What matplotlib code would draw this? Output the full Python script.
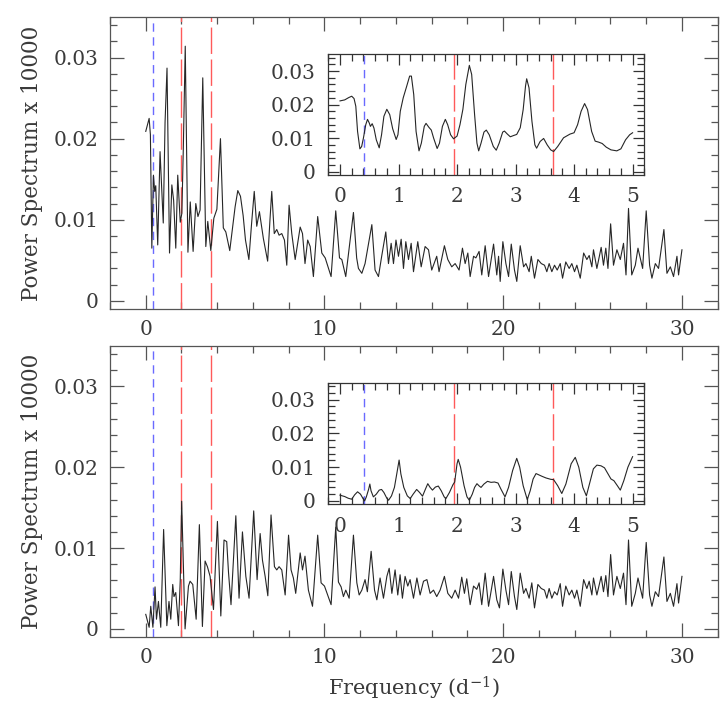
import matplotlib
matplotlib.use("Agg")
import matplotlib.pyplot as plt
from matplotlib.ticker import MultipleLocator, FixedLocator

plt.rcParams['font.family'] = ['DejaVu Serif']
plt.rcParams['mathtext.fontset'] = 'dejavuserif'

# ---------------- data ----------------
top_main_f = [0.00, 0.19, 0.26, 0.34, 0.43, 0.50, 0.56, 0.67, 0.80, 0.98, 1.08, 1.19, 1.33, 1.46, 1.56,
              1.68, 1.79, 1.93, 2.02, 2.10, 2.21, 2.36, 2.49, 2.65, 2.80, 2.92, 3.04, 3.19, 3.36, 3.47,
              3.64, 3.81, 3.98, 4.18, 4.34, 4.48, 4.70, 5.00, 5.15, 5.30, 5.45, 5.58, 5.77, 5.92, 6.07,
              6.21, 6.36, 6.58, 6.82, 6.95, 7.05, 7.19, 7.33, 7.46, 7.61, 7.76, 7.89, 8.02, 8.17, 8.36,
              8.64, 8.77, 8.91, 9.06, 9.20, 9.38, 9.62, 9.85, 10.04, 10.37, 10.63, 10.84, 10.97, 11.19,
              11.62, 11.80, 11.90, 12.09, 12.27, 12.65, 12.83, 13.02, 13.20, 13.43, 13.58, 13.73, 13.86,
              14.00, 14.14, 14.29, 14.42, 14.55, 14.70, 14.85, 14.98, 15.22, 15.41, 15.63, 15.82, 16.00,
              16.28, 16.41, 16.71, 16.90, 17.12, 17.31, 17.53, 17.72, 17.87, 18.02, 18.15, 18.34, 18.47,
              18.65, 18.80, 18.99, 19.18, 19.46, 19.64, 19.74, 19.83, 19.98, 20.15, 20.30, 20.45, 20.63,
              20.76, 20.95, 21.14, 21.27, 21.45, 21.57, 21.75, 21.94, 22.13, 22.31, 22.44, 22.57, 22.72,
              22.87, 23.02, 23.19, 23.32, 23.50, 23.69, 23.84, 23.99, 24.12, 24.31, 24.50, 24.68, 24.81,
              24.96, 25.05, 25.24, 25.48, 25.61, 25.74, 25.86, 26.01, 26.17, 26.36, 26.55, 26.73, 26.87,
              27.01, 27.19, 27.39, 27.54, 27.80, 28.00, 28.19, 28.32, 28.51, 28.69, 28.99, 29.16, 29.35,
              29.53, 29.72, 29.81, 30.00]
top_main_p = [0.0209, 0.0225, 0.0205, 0.0065, 0.0155, 0.0135, 0.0142, 0.0069, 0.0184, 0.0096, 0.0220, 0.0287, 0.0059, 0.0143, 0.0124,
              0.0065, 0.0155, 0.0097, 0.0108, 0.0186, 0.0314, 0.0060, 0.0122, 0.0061, 0.0120, 0.0104, 0.0112, 0.0275, 0.0067, 0.0098,
              0.0062, 0.0102, 0.0113, 0.0200, 0.0090, 0.0085, 0.0062, 0.0116, 0.0136, 0.0129, 0.0105, 0.0075, 0.0051, 0.0095, 0.0135,
              0.0092, 0.0110, 0.0077, 0.0049, 0.0100, 0.0135, 0.0083, 0.0088, 0.0081, 0.0083, 0.0075, 0.0044, 0.0118, 0.0083, 0.0051,
              0.0091, 0.0083, 0.0046, 0.0075, 0.0067, 0.0030, 0.0104, 0.0059, 0.0053, 0.0030, 0.0111, 0.0053, 0.0051, 0.0030,
              0.0109, 0.0053, 0.0040, 0.0034, 0.0046, 0.0094, 0.0038, 0.0030, 0.0055, 0.0085, 0.0046, 0.0071, 0.0046,
              0.0075, 0.0055, 0.0076, 0.0040, 0.0073, 0.0051, 0.0071, 0.0036, 0.0073, 0.0042, 0.0067, 0.0063, 0.0038,
              0.0055, 0.0036, 0.0068, 0.0051, 0.0042, 0.0046, 0.0038, 0.0065, 0.0046, 0.0059, 0.0030, 0.0055, 0.0053,
              0.0061, 0.0032, 0.0068, 0.0030, 0.0070, 0.0032, 0.0055, 0.0024, 0.0073, 0.0046, 0.0030, 0.0070, 0.0038,
              0.0024, 0.0068, 0.0042, 0.0046, 0.0036, 0.0055, 0.0028, 0.0051, 0.0046, 0.0044, 0.0036, 0.0046, 0.0036,
              0.0044, 0.0038, 0.0046, 0.0028, 0.0048, 0.0040, 0.0046, 0.0036, 0.0044, 0.0028, 0.0059, 0.0051, 0.0056,
              0.0042, 0.0063, 0.0040, 0.0066, 0.0044, 0.0065, 0.0040, 0.0095, 0.0044, 0.0063, 0.0051, 0.0071, 0.0032,
              0.0114, 0.0032, 0.0044, 0.0065, 0.0040, 0.0111, 0.0044, 0.0028, 0.0046, 0.0040, 0.0088, 0.0034, 0.0042,
              0.0030, 0.0055, 0.0032, 0.0063]

bot_main_f = [0.00, 0.19, 0.28, 0.40, 0.52, 0.60, 0.71, 0.84, 1.00, 1.18, 1.30, 1.40, 1.51, 1.58, 1.68,
              1.83, 1.93, 2.01, 2.20, 2.39, 2.48, 2.63, 2.82, 3.00, 3.17, 3.32, 3.45, 3.60, 3.79, 4.01,
              4.20, 4.38, 4.53, 4.63, 4.77, 5.04, 5.22, 5.41, 5.60, 5.78, 6.04, 6.23, 6.40, 6.53, 6.68,
              6.83, 7.01, 7.20, 7.33, 7.46, 7.61, 7.80, 7.99, 8.13, 8.26, 8.39, 8.64, 8.77, 8.91, 9.10,
              9.33, 9.62, 9.81, 10.00, 10.37, 10.63, 10.78, 10.93, 11.06, 11.19, 11.38, 11.62, 11.81,
              11.94, 12.09, 12.27, 12.40, 12.61, 12.80, 12.93, 13.11, 13.30, 13.49, 13.62, 13.77, 13.95,
              14.10, 14.23, 14.36, 14.51, 14.66, 14.79, 14.98, 15.17, 15.35, 15.54, 15.73, 15.91, 16.10,
              16.28, 16.47, 16.71, 16.90, 17.12, 17.31, 17.50, 17.68, 17.83, 17.96, 18.15, 18.34, 18.52,
              18.65, 18.80, 18.99, 19.18, 19.46, 19.64, 19.79, 19.98, 20.15, 20.30, 20.45, 20.63, 20.76,
              20.95, 21.14, 21.27, 21.45, 21.60, 21.75, 21.94, 22.13, 22.31, 22.44, 22.57, 22.72, 22.87,
              23.02, 23.19, 23.32, 23.50, 23.69, 23.84, 23.99, 24.12, 24.31, 24.50, 24.68, 24.81, 24.96,
              25.05, 25.24, 25.48, 25.61, 25.74, 25.86, 26.01, 26.17, 26.36, 26.55, 26.73, 26.87, 27.01,
              27.19, 27.39, 27.54, 27.80, 28.00, 28.19, 28.32, 28.51, 28.69, 28.99, 29.16, 29.35, 29.53,
              29.72, 29.81, 30.00]
bot_main_p = [0.0018, 0.0002, 0.0028, 0.0002, 0.0052, 0.0012, 0.0034, 0.0002, 0.0123, 0.0004, 0.0034, 0.0012, 0.0055, 0.0040, 0.0045,
              0.0004, 0.0060, 0.0158, 0.0000, 0.0053, 0.0059, 0.0055, 0.0012, 0.0129, 0.0003, 0.0084, 0.0077, 0.0065, 0.0024, 0.0133,
              0.0016, 0.0110, 0.0108, 0.0070, 0.0030, 0.0140, 0.0038, 0.0120, 0.0065, 0.0038, 0.0146, 0.0061, 0.0118, 0.0085, 0.0065,
              0.0041, 0.0141, 0.0077, 0.0073, 0.0077, 0.0073, 0.0042, 0.0116, 0.0073, 0.0063, 0.0044, 0.0094, 0.0073, 0.0090, 0.0048,
              0.0028, 0.0116, 0.0057, 0.0053, 0.0030, 0.0126, 0.0058, 0.0052, 0.0040, 0.0048, 0.0038, 0.0116, 0.0057,
              0.0042, 0.0048, 0.0061, 0.0046, 0.0096, 0.0048, 0.0036, 0.0063, 0.0038, 0.0065, 0.0075, 0.0044, 0.0073,
              0.0042, 0.0067, 0.0038, 0.0065, 0.0053, 0.0061, 0.0038, 0.0063, 0.0042, 0.0059, 0.0061, 0.0044, 0.0048,
              0.0040, 0.0048, 0.0065, 0.0044, 0.0038, 0.0048, 0.0038, 0.0064, 0.0044, 0.0062, 0.0030, 0.0053, 0.0049,
              0.0057, 0.0030, 0.0069, 0.0028, 0.0065, 0.0036, 0.0026, 0.0074, 0.0048, 0.0030, 0.0071, 0.0040, 0.0024,
              0.0069, 0.0044, 0.0050, 0.0038, 0.0057, 0.0026, 0.0055, 0.0050, 0.0048, 0.0038, 0.0050, 0.0038, 0.0046,
              0.0042, 0.0056, 0.0028, 0.0053, 0.0042, 0.0048, 0.0038, 0.0048, 0.0028, 0.0061, 0.0050, 0.0059, 0.0042,
              0.0063, 0.0042, 0.0065, 0.0046, 0.0066, 0.0040, 0.0092, 0.0042, 0.0065, 0.0050, 0.0069, 0.0030, 0.0110,
              0.0028, 0.0044, 0.0063, 0.0038, 0.0107, 0.0042, 0.0028, 0.0046, 0.0040, 0.0089, 0.0034, 0.0044, 0.0028,
              0.0056, 0.0032, 0.0065]

top_inset_f = [0.00, 0.08, 0.15, 0.20, 0.24, 0.27, 0.30, 0.34, 0.37, 0.40, 0.44, 0.47, 0.50, 0.52, 0.55,
               0.58, 0.62, 0.67, 0.71, 0.75, 0.80, 0.85, 0.90, 0.96, 0.99, 1.03, 1.08, 1.14, 1.19, 1.22,
               1.26, 1.30, 1.35, 1.39, 1.44, 1.47, 1.52, 1.56, 1.60, 1.66, 1.70, 1.75, 1.80, 1.84, 1.89,
               1.94, 2.00, 2.05, 2.10, 2.15, 2.21, 2.25, 2.30, 2.34, 2.37, 2.41, 2.46, 2.50, 2.55, 2.62,
               2.67, 2.72, 2.78, 2.81, 2.86, 2.91, 2.97, 3.02, 3.08, 3.13, 3.17, 3.19, 3.23, 3.28, 3.33,
               3.36, 3.42, 3.48, 3.54, 3.60, 3.65, 3.72, 3.82, 3.93, 4.00, 4.06, 4.12, 4.18, 4.23, 4.30,
               4.36, 4.42, 4.48, 4.55, 4.63, 4.73, 4.80, 4.88, 4.95, 5.00]
top_inset_p = [0.0211, 0.0214, 0.0221, 0.0225, 0.0218, 0.0195, 0.0120, 0.0068, 0.0075, 0.0100, 0.0140, 0.0156, 0.0145, 0.0135, 0.0143,
               0.0130, 0.0095, 0.0071, 0.0110, 0.0165, 0.0186, 0.0170, 0.0128, 0.0096, 0.0110, 0.0180, 0.0220, 0.0255, 0.0285, 0.0285,
               0.0230, 0.0120, 0.0062, 0.0085, 0.0135, 0.0144, 0.0132, 0.0124, 0.0100, 0.0069, 0.0085, 0.0135, 0.0156, 0.0140, 0.0110,
               0.0098, 0.0106, 0.0140, 0.0186, 0.0260, 0.0317, 0.0290, 0.0170, 0.0085, 0.0062, 0.0085, 0.0118, 0.0124, 0.0110, 0.0075,
               0.0064, 0.0085, 0.0118, 0.0121, 0.0112, 0.0104, 0.0108, 0.0111, 0.0131, 0.0185, 0.0255, 0.0277, 0.0250, 0.0150, 0.0080,
               0.0070, 0.0090, 0.0099, 0.0080, 0.0065, 0.0060, 0.0075, 0.0101, 0.0112, 0.0116, 0.0140, 0.0180, 0.0203, 0.0185, 0.0120,
               0.0091, 0.0088, 0.0084, 0.0073, 0.0065, 0.0062, 0.0068, 0.0095, 0.0110, 0.0116]

bot_inset_f = [0.00, 0.08, 0.14, 0.20, 0.25, 0.30, 0.35, 0.39, 0.42, 0.45, 0.49, 0.51, 0.53, 0.57, 0.62,
               0.67, 0.71, 0.75, 0.80, 0.83, 0.88, 0.93, 0.97, 1.01, 1.04, 1.09, 1.15, 1.20, 1.25, 1.31,
               1.36, 1.41, 1.46, 1.50, 1.54, 1.58, 1.63, 1.68, 1.73, 1.78, 1.81, 1.87, 1.93, 1.96, 2.00,
               2.02, 2.06, 2.12, 2.17, 2.21, 2.26, 2.30, 2.34, 2.38, 2.41, 2.46, 2.52, 2.58, 2.64, 2.70,
               2.75, 2.82, 2.88, 2.95, 3.02, 3.07, 3.13, 3.20, 3.25, 3.30, 3.35, 3.40, 3.45, 3.52, 3.60,
               3.65, 3.72, 3.79, 3.86, 3.95, 4.02, 4.08, 4.15, 4.21, 4.27, 4.33, 4.39, 4.46, 4.52, 4.58,
               4.63, 4.68, 4.74, 4.79, 4.85, 4.92, 5.00]
bot_inset_p = [0.0017, 0.0013, 0.0008, 0.0005, 0.0018, 0.0027, 0.0020, 0.0008, 0.0000, 0.0012, 0.0035, 0.0050, 0.0030, 0.0012, 0.0020,
               0.0032, 0.0034, 0.0025, 0.0008, 0.0002, 0.0015, 0.0040, 0.0080, 0.0121, 0.0080, 0.0040, 0.0015, 0.0007, 0.0020, 0.0034,
               0.0025, 0.0014, 0.0035, 0.0051, 0.0040, 0.0032, 0.0041, 0.0044, 0.0030, 0.0012, 0.0007, 0.0025, 0.0048, 0.0056, 0.0110,
               0.0123, 0.0100, 0.0045, 0.0012, 0.0002, 0.0020, 0.0040, 0.0051, 0.0044, 0.0040, 0.0050, 0.0058, 0.0055, 0.0056, 0.0053,
               0.0035, 0.0012, 0.0040, 0.0090, 0.0126, 0.0100, 0.0045, 0.0004, 0.0030, 0.0065, 0.0081, 0.0077, 0.0073, 0.0068, 0.0064,
               0.0063, 0.0045, 0.0022, 0.0050, 0.0110, 0.0129, 0.0100, 0.0040, 0.0015, 0.0055, 0.0095, 0.0106, 0.0104, 0.0098, 0.0080,
               0.0065, 0.0060, 0.0045, 0.0032, 0.0060, 0.0100, 0.0131]

blue_line = 0.41
red_lines = [1.95, 3.64]

# ---------------- styling helpers ----------------
LINE_C = '#262626'
SPINE_C = '#555555'
TEXT_C = '#3a3a3a'
BLUE = '#6a6aff'
RED = '#ff5a5a'


def style(ax, xmaj, xmin, xlim, spine_c, major_len, minor_len, lab_pad_x, lab_pad_y):
    ax.set_xlim(*xlim)
    ax.set_ylim(-0.001, 0.035)
    ax.xaxis.set_major_locator(MultipleLocator(xmaj))
    ax.xaxis.set_minor_locator(MultipleLocator(xmin))
    ax.yaxis.set_major_locator(FixedLocator([0, 0.01, 0.02, 0.03]))
    ax.yaxis.set_minor_locator(MultipleLocator(0.002))
    ax.yaxis.set_major_formatter(plt.FuncFormatter(lambda v, p: '0' if abs(v) < 1e-9 else f'{v:.2f}'))
    ax.xaxis.set_major_formatter(plt.FuncFormatter(lambda v, p: f'{v:.0f}'))
    ax.tick_params(which='both', direction='in', top=True, right=True, color=spine_c, width=0.9,
                   labelsize=14.5, labelcolor=TEXT_C)
    ax.tick_params(which='major', length=major_len)
    ax.tick_params(which='minor', length=minor_len)
    ax.tick_params(axis='x', pad=lab_pad_x)
    ax.tick_params(axis='y', pad=lab_pad_y)
    for s in ax.spines.values():
        s.set_color(spine_c)
        s.set_linewidth(0.9)


def vlines(ax):
    ax.axvline(blue_line, color=BLUE, lw=1.0, dashes=(6, 4))
    for r in red_lines:
        ax.axvline(r, color=RED, lw=1.0, dashes=(19, 4))


fig = plt.figure(figsize=(7.25, 7.11), dpi=100)
W, H = 725.0, 711.0


def rect(l, t, r, b):
    return [l / W, 1 - b / H, (r - l) / W, (b - t) / H]


panels = [
    (rect(110, 17, 717.7, 309), rect(328.3, 54.3, 644.3, 175), top_main_f, top_main_p, top_inset_f, top_inset_p),
    (rect(110, 346, 717.7, 637), rect(328.3, 382.7, 644.3, 504.3), bot_main_f, bot_main_p, bot_inset_f, bot_inset_p),
]

for mrect, irect, mf, mp, inf, inp in panels:
    ax = fig.add_axes(mrect)
    vlines(ax)
    ax.plot(mf, mp, color=LINE_C, lw=0.8)
    style(ax, 10, 2, (-2, 32), SPINE_C, 10, 5, 8, 8)

    ia = fig.add_axes(irect)
    ia.set_facecolor('white')
    vlines(ia)
    ia.plot(inf, inp, color=LINE_C, lw=0.8)
    style(ia, 1, 0.2, (-0.2, 5.2), '#333333', 8, 5, 9, 9)

    cy = (mrect[1] + mrect[3] / 2)
    fig.text(32 / W, cy, 'Power Spectrum x 10000', rotation=90, ha='center', va='center',
             fontsize=15.5, color=TEXT_C)

fig.text(414 / W, 1 - 688 / H, r'Frequency (d$^{-1}$)', ha='center', va='center', fontsize=15,
         color=TEXT_C)

fig.savefig('out.png', dpi=100)
